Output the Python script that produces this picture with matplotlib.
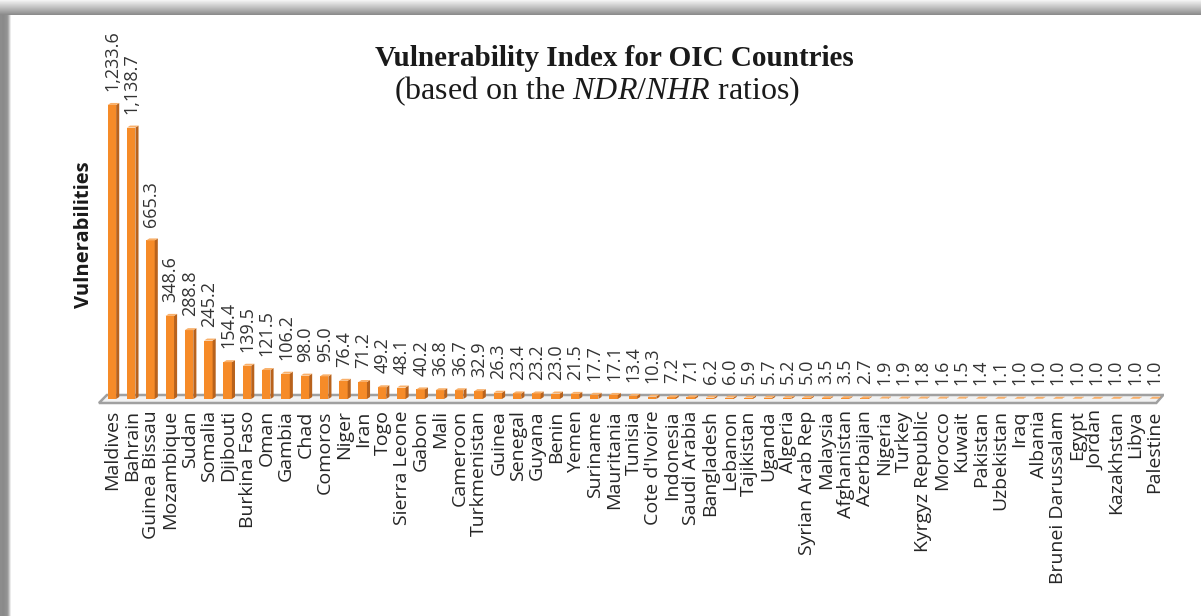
import numpy as np
import matplotlib
matplotlib.use("Agg")
import matplotlib.pyplot as plt

countries = ["Maldives", "Bahrain", "Guinea Bissau", "Mozambique", "Sudan", "Somalia",
             "Djibouti", "Burkina Faso", "Oman", "Gambia", "Chad", "Comoros", "Niger",
             "Iran", "Togo", "Sierra Leone", "Gabon", "Mali", "Cameroon", "Turkmenistan",
             "Guinea", "Senegal", "Guyana", "Benin", "Yemen", "Suriname", "Mauritania",
             "Tunisia", "Cote d'Ivoire", "Indonesia", "Saudi Arabia", "Bangladesh",
             "Lebanon", "Tajikistan", "Uganda", "Algeria", "Syrian Arab Rep", "Malaysia",
             "Afghanistan", "Azerbaijan", "Nigeria", "Turkey", "Kyrgyz Republic",
             "Morocco", "Kuwait", "Pakistan", "Uzbekistan", "Iraq", "Albania",
             "Brunei Darussalam", "Egypt", "Jordan", "Kazakhstan", "Libya", "Palestine"]
values = [1233.6, 1138.7, 665.3, 348.6, 288.8, 245.2, 154.4, 139.5, 121.5, 106.2,
          98.0, 95.0, 76.4, 71.2, 49.2, 48.1, 40.2, 36.8, 36.7, 32.9, 26.3, 23.4,
          23.2, 23.0, 21.5, 17.7, 17.1, 13.4, 10.3, 7.2, 7.1, 6.2, 6.0, 5.9, 5.7,
          5.2, 5.0, 3.5, 3.5, 2.7, 1.9, 1.9, 1.8, 1.6, 1.5, 1.4, 1.1, 1.0, 1.0,
          1.0, 1.0, 1.0, 1.0, 1.0, 1.0]

plt.rcParams['mathtext.fontset'] = 'custom'
plt.rcParams['mathtext.rm'] = 'Liberation Serif'
plt.rcParams['mathtext.it'] = 'Liberation Serif:italic'

W, H = 1201, 616
fig = plt.figure(figsize=(W / 100, H / 100), dpi=100)
fig.patch.set_facecolor('white')

# plot area placed in pixels
ax = fig.add_axes([98 / W, (H - 406) / H, (1164 - 98) / W, (406 - 20) / H])
ax.set_xlim(-0.75, 54.5)
ax.set_ylim(-29.4, 1590)
for s in ax.spines.values():
    s.set_visible(False)

x = np.arange(len(countries))
v = np.array(values)
k = (1590 + 29.4) / (406 - 20)  # data units per pixel

# floor (3d platform)
n = len(countries)
fx = [-0.29, n - 0.54, n - 0.9, -0.7]
fy = [4 * k, 4 * k, -4 * k, -4 * k]
ax.fill(fx, fy, facecolor='#f2f2f2', edgecolor='#a0a0a0', lw=1.8, zorder=1)

# bars: front, side and top faces
front, side, top = '#f68b28', '#b8621c', '#f9b06a'
ax.bar(x - 0.03, v, width=0.44, color=front, zorder=3)
dx, dy = 0.16, 2 * k
for xi, vi in zip(x, v):
    r = xi + 0.19
    ax.fill([r, r + dx, r + dx, r], [0, dy, vi + dy, vi], color=side, lw=0, zorder=3)
    ax.fill([xi - 0.25, r, r + dx, xi - 0.25 + dx], [vi, vi, vi + dy, vi + dy],
            color=top, lw=0, zorder=3)

for xi, vi in zip(x, v):
    ax.annotate(f"{vi:,.1f}", (xi, vi), xytext=(0, 10), textcoords='offset points',
                rotation=90, ha='center', va='bottom', fontsize=13,
                family='Open Sans', color='#333333')

ax.set_xticks(x)
ax.set_xticklabels(countries, rotation=90, fontsize=14, family='Open Sans', color='#262626')
ax.tick_params(axis='x', length=0, pad=3)
ax.set_yticks([])

fig.text(84 / W, 1 - 235 / H, "Vulnerabilities", rotation=90, ha='center', va='center',
         fontsize=14.5, fontweight='bold', family='Open Sans', color='#1a1a1a')
fig.text(614 / W, 1 - 58 / H, "Vulnerability Index for OIC Countries", ha='center',
         va='center', fontsize=21, fontweight='bold', family='Liberation Serif', color='#1a1a1a')
fig.text(597 / W, 1 - 91 / H, r"(based on the $NDR$/$NHR$ ratios)", ha='center',
         va='center', fontsize=23, family='Liberation Serif', color='#1a1a1a')

# grey frame at top and left
grad = np.linspace(0.95, 0.55, 15).reshape(-1, 1)
axt = fig.add_axes([0, 1 - 15 / H, 1, 15 / H])
axt.imshow(grad, cmap='gray', vmin=0, vmax=1, aspect='auto')
axt.axis('off')
axl = fig.add_axes([0, 0, 11 / W, 1 - 15 / H])
axl.imshow(np.array([[0.55, 0.55, 0.54, 0.54, 0.55, 0.56, 0.57, 0.6, 0.68, 0.8, 0.92]]),
           cmap='gray', vmin=0, vmax=1, aspect='auto')
axl.axis('off')

fig.savefig('out.png', dpi=100)
